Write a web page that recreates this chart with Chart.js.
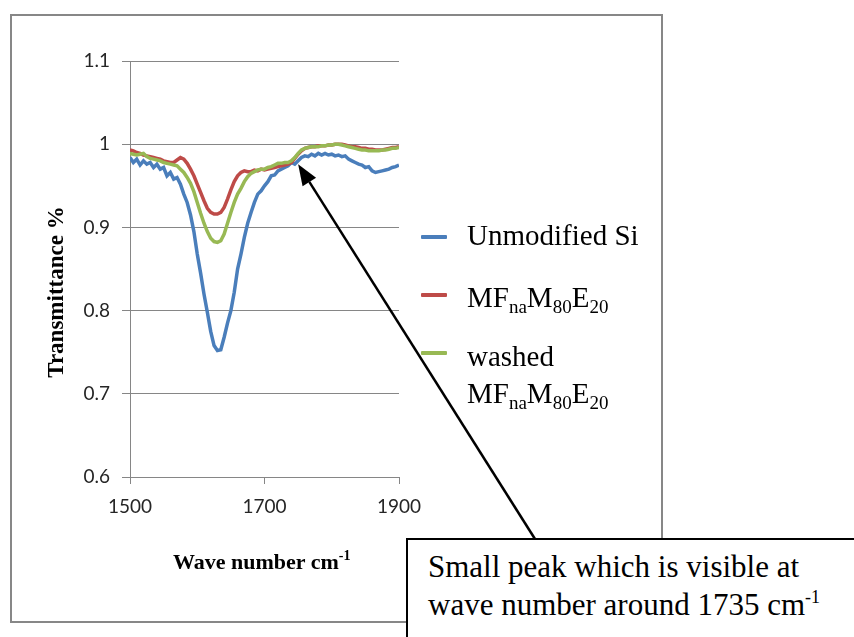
<!DOCTYPE html>
<html>
<head>
<meta charset="utf-8">
<script src="https://cdn.jsdelivr.net/npm/chart.js@4/dist/chart.umd.min.js"></script>
<style>
  html, body { margin:0; padding:0; background:#fff; }
  body { width:854px; height:637px; overflow:hidden; position:relative; }
  #c { position:absolute; left:0; top:0; }
  .frame { position:absolute; left:10px; top:14px; width:649px; height:605px; border:2px solid #878787; }
  .serif { font-family:"Liberation Serif","Times New Roman","DejaVu Serif",serif; color:#000; white-space:nowrap; }
  .leg { position:absolute; left:467px; font-size:29px; line-height:29px; }
  .sub { font-size:19px; position:relative; top:6px; }
  .mk { position:absolute; left:421px; width:26px; height:4px; border-radius:1px; }
  .xt { position:absolute; left:173px; top:551px; font-size:22px; font-weight:bold; line-height:22px; }
  .xt sup { font-size:14px; position:relative; top:-9px; vertical-align:baseline; }
  .yt { position:absolute; left:-94px; top:281px; width:300px; height:22px; text-align:center; font-size:23px; font-weight:bold; line-height:22px; transform:rotate(-90deg); }
  .note { position:absolute; left:406px; top:538px; width:470px; height:120px; border:2px solid #000; background:#fff; box-sizing:border-box; padding:8px 0 0 20px; font-size:31px; line-height:38px; font-family:"Liberation Serif","Times New Roman","DejaVu Serif",serif; }
  .note sup { font-size:18px; position:relative; top:-12px; vertical-align:baseline; }
</style>
</head>
<body>
<div class="frame"></div>
<canvas id="c" width="854" height="637"></canvas>

<div class="mk" style="top:235px;background:#4a7ebb"></div>
<div class="mk" style="top:293px;background:#be4b48"></div>
<div class="mk" style="top:351px;background:#98b954"></div>
<div class="leg serif" style="top:221px">Unmodified Si</div>
<div class="leg serif" style="top:283px">MF<span class="sub">na</span>M<span class="sub">80</span>E<span class="sub">20</span></div>
<div class="leg serif" style="top:338px;line-height:37px">washed<br>MF<span class="sub">na</span>M<span class="sub">80</span>E<span class="sub">20</span></div>

<div class="xt serif">Wave number cm<sup>-1</sup></div>
<div class="yt serif">Transmittance %</div>
<div class="note serif">Small peak which is visible at<br>wave number around 1735 cm<sup>-1</sup></div>

<script>
// ---- data ----
const wavenumbers = [1500,1505,1510,1515,1520,1525,1530,1535,1540,1545,1550,1555,1560,1565,1570,1575,1580,1585,1590,1595,
  1600,1605,1610,1615,1620,1625,1630,1635,1640,1645,1650,1655,1660,1665,1670,1675,1680,1685,1690,1695,
  1700,1705,1710,1715,1720,1725,1730,1735,1740,1745,1750,1755,1760,1765,1770,1775,1780,1785,1790,1795,
  1800,1805,1810,1815,1820,1825,1830,1835,1840,1845,1850,1855,1860,1865,1870,1875,1880,1885,1890,1895,1900];

const unmodifiedSi = [0.984,0.978,0.982,0.975,0.980,0.976,0.978,0.972,0.976,0.970,0.972,0.962,0.966,0.958,0.960,0.952,0.940,0.930,0.915,0.895,
  0.868,0.845,0.820,0.798,0.775,0.758,0.752,0.753,0.768,0.785,0.800,0.822,0.850,0.868,0.888,0.905,0.918,0.930,0.940,0.944,
  0.950,0.955,0.962,0.963,0.968,0.970,0.972,0.974,0.978,0.976,0.980,0.984,0.986,0.985,0.988,0.986,0.989,0.987,0.989,0.987,
  0.988,0.986,0.987,0.985,0.986,0.982,0.980,0.978,0.976,0.975,0.972,0.973,0.968,0.966,0.967,0.968,0.969,0.970,0.972,0.973,0.975];

const mfM80E20 = [0.993,0.992,0.990,0.989,0.987,0.986,0.985,0.984,0.983,0.982,0.980,0.979,0.978,0.978,0.981,0.984,0.982,0.977,0.970,0.962,
  0.952,0.942,0.932,0.923,0.918,0.916,0.916,0.918,0.924,0.934,0.945,0.955,0.962,0.966,0.968,0.967,0.967,0.969,0.968,0.970,
  0.969,0.970,0.971,0.972,0.973,0.974,0.975,0.976,0.978,0.983,0.988,0.992,0.995,0.996,0.997,0.997,0.998,0.998,0.998,0.999,
  0.999,1.000,1.000,1.000,0.999,0.998,0.997,0.997,0.996,0.995,0.995,0.994,0.994,0.993,0.993,0.993,0.994,0.995,0.996,0.996,0.997];

const washedMfM80E20 = [0.989,0.988,0.987,0.988,0.989,0.985,0.983,0.982,0.981,0.980,0.978,0.977,0.976,0.975,0.974,0.970,0.966,0.960,0.953,0.943,
  0.930,0.917,0.905,0.895,0.887,0.883,0.882,0.884,0.892,0.905,0.918,0.930,0.940,0.947,0.955,0.961,0.965,0.967,0.969,0.970,
  0.970,0.972,0.973,0.975,0.977,0.977,0.978,0.978,0.980,0.984,0.989,0.993,0.995,0.996,0.997,0.997,0.997,0.998,0.998,0.999,
  0.999,1.000,1.000,0.999,0.998,0.997,0.996,0.995,0.994,0.993,0.993,0.992,0.992,0.992,0.992,0.993,0.993,0.994,0.995,0.995,0.996];

const xTicks = [1500,1700,1900];
const yTicks = [0.6,0.7,0.8,0.9,1.0,1.1];

// annotation arrow (in data units: tip at the small peak near 1735 cm-1)
const arrowTip = {x:1750, y:0.976};

const toPts = arr => wavenumbers.map((x,i)=>({x:x, y:arr[i]}));
const GRID = '#868686';

const arrowPlugin = {
  id:'arrow',
  afterDraw(chart){
    const c = chart.ctx;
    const tx = chart.scales.x.getPixelForValue(arrowTip.x);
    const ty = chart.scales.y.getPixelForValue(arrowTip.y);
    const sx = 535, sy = 539;
    const ang = Math.atan2(ty - sy, tx - sx);
    const L = 21, W = 8;
    const bx = tx - L*Math.cos(ang), by = ty - L*Math.sin(ang);
    c.save();
    c.strokeStyle = '#000'; c.fillStyle = '#000'; c.lineWidth = 2.5;
    c.beginPath(); c.moveTo(sx, sy); c.lineTo(bx, by); c.stroke();
    c.beginPath();
    c.moveTo(tx, ty);
    c.lineTo(bx + W*Math.sin(ang), by - W*Math.cos(ang));
    c.lineTo(bx - W*Math.sin(ang), by + W*Math.cos(ang));
    c.closePath(); c.fill();
    c.restore();
  }
};

new Chart(document.getElementById('c'), {
  type:'line',
  data:{ datasets:[
    {label:'Unmodified Si', data:toPts(unmodifiedSi), borderColor:'#4a7ebb', borderWidth:3.5, pointRadius:0, tension:0, order:3},
    {label:'MFnaM80E20', data:toPts(mfM80E20), borderColor:'#be4b48', borderWidth:3.5, pointRadius:0, tension:0, order:2},
    {label:'washed MFnaM80E20', data:toPts(washedMfM80E20), borderColor:'#98b954', borderWidth:3.5, pointRadius:0, tension:0, order:1}
  ]},
  options:{
    responsive:false, animation:false, devicePixelRatio:1,
    layout:{ padding:{ left:0, top:61, right:455, bottom:0 } },
    plugins:{ legend:{display:false}, tooltip:{enabled:false} },
    scales:{
      x:{
        type:'linear', min:1500, max:1900,
        afterBuildTicks:s=>{ s.ticks = xTicks.map(v=>({value:v})); },
        afterFit:s=>{ s.height = 160; },
        grid:{ drawOnChartArea:false, drawTicks:true, tickLength:7, color:GRID },
        border:{ color:GRID, width:1 },
        ticks:{ font:{family:'Lato', size:19}, color:'#262626', padding:11, maxRotation:0, callback:v=>String(v) }
      },
      y:{
        min:0.6, max:1.1,
        afterBuildTicks:s=>{ s.ticks = yTicks.map(v=>({value:v})); },
        afterFit:s=>{ s.width = 130; },
        grid:{ color:GRID, tickLength:8 },
        border:{ color:GRID, width:1 },
        ticks:{ font:{family:'Lato', size:19}, color:'#262626', padding:12, callback:v=>String(+(+v).toFixed(1)) }
      }
    }
  },
  plugins:[arrowPlugin]
});
</script>
</body>
</html>
